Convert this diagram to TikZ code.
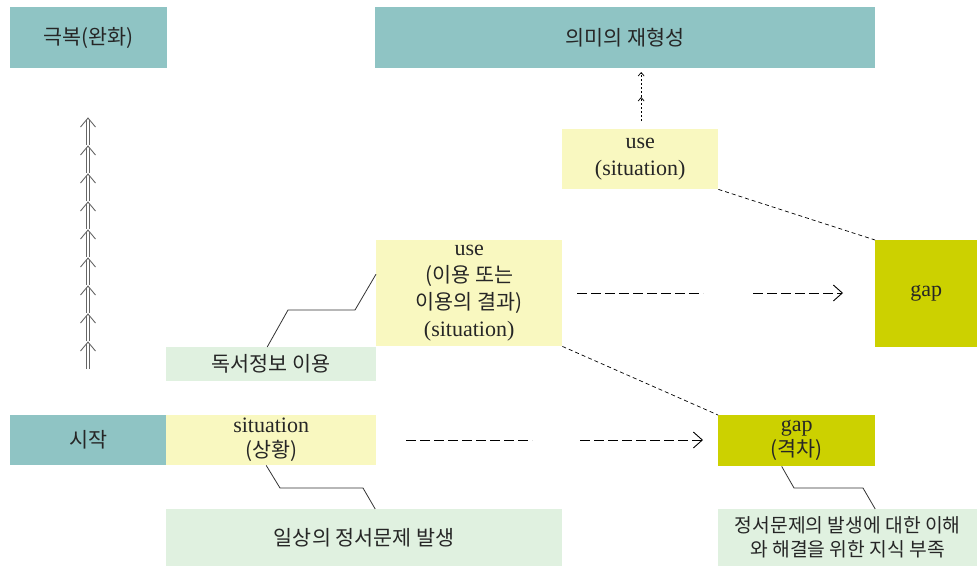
\documentclass[tikz,border=0pt]{standalone}
\usepackage{fontspec}
\setmainfont{Liberation Serif}
\newfontfamily\kr{Noto Sans CJK KR}[Scale=0.94]
\usetikzlibrary{arrows.meta,calc}

\definecolor{boxteal}{RGB}{143,196,196}
\definecolor{boxyellow}{RGB}{249,248,192}
\definecolor{boxolive}{RGB}{204,209,0}
\definecolor{boxgreen}{RGB}{224,241,224}

\tikzset{
  box/.style={anchor=north west, inner sep=0pt, align=center, text=black!85},
  shortdash/.style={dash pattern=on 4pt off 3pt, line width=0.7pt},
  longdash/.style={dash pattern=on 10pt off 4pt, line width=0.9pt},
  tipdash/.style={longdash, -{Straight Barb[length=9pt,width=16pt,line width=0.9pt]}},
  upstep/.style={dash pattern=on 2.5pt off 1.5pt, line width=0.7pt, -{Straight Barb[length=3.5pt,width=6pt]}},
  callout/.style={line width=0.8pt, black!80},
  uparr/.style={line width=0.9pt, black!60}
}

\begin{document}
\begin{tikzpicture}[x=1pt, y=-1pt, font=\fontsize{22}{27}\selectfont]
\useasboundingbox (0,0) rectangle (977,566);

% top row
\node[box, fill=boxteal, minimum width=157pt, minimum height=61pt] (goal) at (10,7) {\kr 극복(완화)};
\node[box, fill=boxteal, minimum width=500pt, minimum height=61pt] (meaning) at (375,7) {\kr 의미의 재형성};
\node[box, fill=boxyellow, minimum width=156pt, minimum height=60pt] (useTop) at (562,129) {use\\(situation)};

% middle row
\node[box, fill=boxyellow, minimum width=186pt, minimum height=106pt] (useMid) at (376,240) {use\\{\kr (이용 또는}\\{\kr 이용의 결과)}\\(situation)};
\node[box, fill=boxolive, minimum width=102pt, minimum height=107pt] (gapTop) at (875,240) {gap};
\node[box, fill=boxgreen, minimum width=210pt, minimum height=34pt] (readUse) at (166,347) {\kr 독서정보 이용};

% bottom row
\node[box, fill=boxteal, minimum width=156pt, minimum height=50pt] (start) at (10,415) {\kr 시작};
\node[box, fill=boxyellow, minimum width=210pt, minimum height=50pt, font=\fontsize{22}{25}\selectfont] (situ) at (166,415) {situation\\{\kr (상황)}};
\node[box, fill=boxolive, minimum width=157pt, minimum height=51pt, font=\fontsize{22}{25}\selectfont] (gapBot) at (718,415) {gap\\{\kr (격차)}};
\node[box, fill=boxgreen, minimum width=396pt, minimum height=57pt] (daily) at (166,509) {\kr 일상의 정서문제 발생};
\node[box, fill=boxgreen, minimum width=259pt, minimum height=57pt, font=\fontsize{20.5}{24}\selectfont] (lack) at (718,509) {\kr 정서문제의 발생에 대한 이해\\\kr 와 해결을 위한 지식 부족};

% stacked double arrows
\foreach \k in {0,...,8} {
  \draw[uparr] (80.5,118+28*\k+9) -- (88,118+28*\k) -- (95.5,118+28*\k+9);
  \draw[uparr] (86.2,118+28*\k+2) -- (86.2,118+28*\k+27);
  \draw[uparr] (89.8,118+28*\k+2) -- (89.8,118+28*\k+27);
}

% up to the top box
\coordinate (m0) at ($(useTop.north)+(1,-8)$);
\coordinate (m1) at ($(useTop.north)+(1,-32)$);
\coordinate (m2) at ($(useTop.north)+(1,-57)$);
\draw[upstep] (m0) -- (m1);
\draw[upstep] (m1) -- (m2);

% dashed links
\draw[shortdash] (useTop.south east) -- (gapTop.north west);
\draw[shortdash] (useMid.south east) -- (gapBot.north west);

% dashed rows
\coordinate (h1) at (577,293);
\coordinate (h2) at (703,293);
\coordinate (h3) at (753,293);
\coordinate (h4) at (843,293);
\draw[longdash] (h1) -- (h2);
\draw[tipdash] (h3) -- (h4);

\coordinate (b1) at (406,440);
\coordinate (b2) at (532,440);
\coordinate (b3) at (580,440);
\coordinate (b4) at (703,440);
\draw[longdash] (b1) -- (b2);
\draw[tipdash] (b3) -- (b4);

% callouts
\draw[callout] ($(readUse.north)+(-4,0)$) -- (288,310) -- (355,310) -- ($(useMid.west)+(0,-19)$);
\draw[callout] ($(situ.south)+(-5,0)$) -- (280,488) -- (363,488) -- ($(daily.north)+(11,0)$);
\draw[callout] ($(gapBot.south)+(-15,0)$) -- (794,488) -- (863,488) -- ($(lack.north)+(27.5,0)$);
\end{tikzpicture}
\end{document}
